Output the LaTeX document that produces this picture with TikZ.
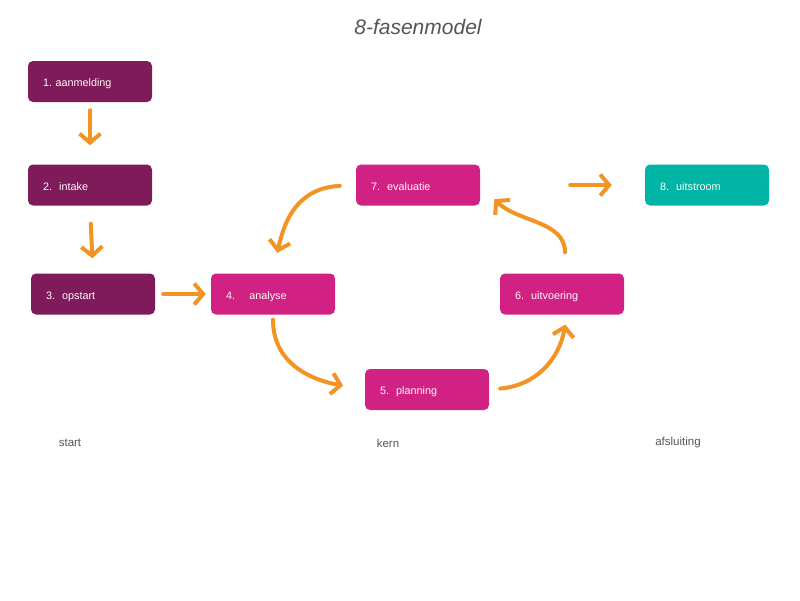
\documentclass[tikz,border=0pt]{standalone}
\usepackage{fontspec}
\setmainfont{Liberation Sans}
\usetikzlibrary{arrows.meta}

\definecolor{startpurple}{HTML}{7F1A5B}
\definecolor{kernpink}{HTML}{D12183}
\definecolor{eindteal}{HTML}{00B5A6}
\definecolor{flowcolor}{HTML}{F29323}
\definecolor{labelgray}{HTML}{555555}

\tikzset{
  phase/.style={rounded corners=5pt, minimum width=124pt, minimum height=41pt,
    text width=94pt, inner xsep=15pt, align=left, font=\fontsize{10.8}{12}\selectfont,
    text=white!92!pink, text height=10pt, text depth=0pt},
  flow/.style={flowcolor, line width=4pt, line cap=round, line join=round,
    -{Straight Barb[length=9pt,width=21pt]}}
}

\begin{document}
\begin{tikzpicture}[x=1pt, y=1pt]
                \useasboundingbox (0,0) rectangle (800,-600);

                % Title
                \node[font=\fontsize{21}{24}\selectfont\itshape, text=labelgray] (title) at (418,-27) {8-fasenmodel};

                % Start phases
                \node[phase, fill=startpurple] (p1) at (90,-81.5) {1.\ aanmelding};
                \node[phase, fill=startpurple] (p2) at (90,-185) {2.\ \ intake};
                \node[phase, fill=startpurple] (p3) at (93,-294) {3.\ \ opstart};

                % Core phases
                \node[phase, fill=kernpink] (p4) at (273,-294) {4.\ \ \ \ analyse};
                \node[phase, fill=kernpink] (p5) at (427,-389.5) {5.\ \ planning};
                \node[phase, fill=kernpink] (p6) at (562,-294) {6.\ \ uitvoering};
                \node[phase, fill=kernpink] (p7) at (418,-185) {7.\ \ evaluatie};

                % Final phase
                \node[phase, fill=eindteal] (p8) at (707,-185) {8.\ \ uitstroom};

                % Column labels
                \node[font=\fontsize{11.5}{13}\selectfont, text=labelgray] (lstart) at (70,-443) {start};
                \node[font=\fontsize{11.5}{13}\selectfont, text=labelgray] (lkern) at (388,-443) {kern};
                \node[font=\fontsize{11.5}{13}\selectfont, text=labelgray] (lend) at (678,-443) {afsluiting};

                % Straight arrows on the left
                \draw[flow, shorten <=8pt, shorten >=19pt] (p1.south) -- (p2.north);
                \draw[flow, shorten <=18pt, shorten >=15pt] (p2.south) -- (p3.north);
                \draw[flow, shorten <=8pt, shorten >=5pt] (p3.east) -- (p4.west);

                % The cycle
                \draw[flow, shorten <=16pt, shorten >=21pt] (p7.west) to[out=183, in=78, looseness=1.2] (p4.north);
                \draw[flow, shorten <=5pt, shorten >=22pt] (p4.south) to[out=-90, in=170, looseness=1.1] (p5.west);
                \draw[flow, shorten <=11pt, shorten >=10pt] (p5.east) to[out=5, in=-100, looseness=1.1] ([xshift=5pt]p6.south);
                \draw[flow, shorten <=21pt, shorten >=20pt] ([xshift=3pt]p6.north) to[out=90, in=-45, looseness=1.1] (p7.east);

                % Exit arrow
                \draw[flow, shorten <=90pt, shorten >=33pt] (p7.east) -- (p8.west);
            \end{tikzpicture}
\end{document}
